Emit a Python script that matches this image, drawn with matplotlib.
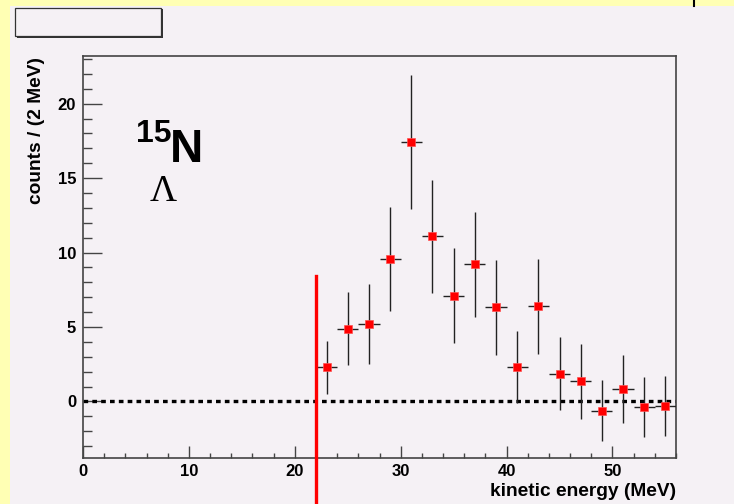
import matplotlib
matplotlib.use("Agg")
import matplotlib.pyplot as plt
from matplotlib.patches import Rectangle
from matplotlib.lines import Line2D
from matplotlib.ticker import MultipleLocator

# Lambda-hypernucleus spectrum, 2 MeV bins
energy = [23, 25, 27, 29, 31, 33, 35, 37, 39, 41, 43, 45, 47, 49, 51, 53, 55]
counts = [2.28, 4.88, 5.2, 9.59, 17.4, 11.08, 7.11, 9.2, 6.32, 2.3, 6.39,
          1.86, 1.35, -0.64, 0.83, -0.36, -0.28]
count_err = [1.78, 2.46, 2.69, 3.5, 4.5, 3.8, 3.19, 3.5, 3.19, 2.4, 3.19,
             2.46, 2.5, 2.05, 2.28, 2.03, 2.02]
bin_half = 1.0
threshold = 22.0

YELLOW = "#ffffb4"
PAD = "#f5f1f5"
FRAME = "#444444"
FONT = "Liberation Sans"
W, H = 734, 504


def fx(px):
    return px / W


def fy(py):
    # pixel rows counted from the top
    return (H - py) / H


fig = plt.figure(figsize=(7.34, 5.04), dpi=100, facecolor=YELLOW)

# pad background and empty title box
fig.patches.append(Rectangle((fx(10), 0), 1, fy(6), transform=fig.transFigure,
                             facecolor=PAD, edgecolor="none", zorder=0))
fig.patches.append(Rectangle((fx(16.5), fy(37.5)), fx(146), 28 / H,
                             transform=fig.transFigure, facecolor="#333333",
                             edgecolor="none", zorder=1))
fig.patches.append(Rectangle((fx(15), fy(36)), fx(146), 28 / H,
                             transform=fig.transFigure, facecolor=PAD,
                             edgecolor="#333333", lw=0.9, zorder=2))
fig.lines.append(Line2D([fx(694), fx(694)], [1, fy(6)], transform=fig.transFigure,
                        color="black", lw=1.5))

ax = fig.add_axes([fx(83), fy(458), fx(593), 402 / H])
ax.set_zorder(5)
ax.set_facecolor("none")
ax.set_xlim(0, 56)
ax.set_ylim(-3.8, 23.2)

for sp in ax.spines.values():
    sp.set_color(FRAME)
    sp.set_linewidth(1.2)

ax.xaxis.set_major_locator(MultipleLocator(10))
ax.xaxis.set_minor_locator(MultipleLocator(2))
ax.yaxis.set_major_locator(MultipleLocator(5))
ax.yaxis.set_minor_locator(MultipleLocator(1))
ax.tick_params(which="both", direction="in", color=FRAME, width=1.0,
               top=False, right=False)
ax.tick_params(axis="y", which="major", length=13.5, pad=5)
ax.tick_params(axis="y", which="minor", length=6.5)
ax.tick_params(axis="x", which="major", length=8.5, pad=4.5)
ax.tick_params(axis="x", which="minor", length=3.6)
for lab in ax.get_xticklabels() + ax.get_yticklabels():
    lab.set_fontfamily(FONT)
    lab.set_fontweight("bold")
    lab.set_fontsize(12)

# zero baseline
ax.axhline(0, color="black", lw=2.4, ls=(0, (1.4, 1.25)), zorder=2)

ax.errorbar(energy, counts, yerr=count_err, xerr=bin_half, fmt="none",
            ecolor="#222222", elinewidth=1.0, capsize=0, zorder=3)
ax.plot(energy, counts, ls="none", marker="s", ms=6.3, mfc="red",
        mec="#ff5050", mew=0.5, zorder=4)

# binding threshold marker, runs past the frame
ax.plot([threshold, threshold], [-6.9, 8.4], color="red", lw=2.4,
        clip_on=False, zorder=5)

fig.text(fx(136), fy(142), "15", fontsize=23, fontweight="bold",
         family=FONT, va="baseline", ha="left")
fig.text(fx(170), fy(162), "N", fontsize=33, fontweight="bold",
         family=FONT, va="baseline", ha="left")
fig.text(fx(150), fy(201), "Λ", fontsize=27,
         family="Liberation Serif", va="baseline", ha="left")

fig.text(fx(37), fy(131), "counts / (2 MeV)", rotation=90,
         ha="center", va="center", fontsize=13.8, fontweight="bold", family=FONT)
fig.text(fx(676), fy(492), "kinetic energy (MeV)",
         ha="right", va="center", fontsize=13.8, fontweight="bold", family=FONT)

fig.savefig("out.png", dpi=100, facecolor=YELLOW)
